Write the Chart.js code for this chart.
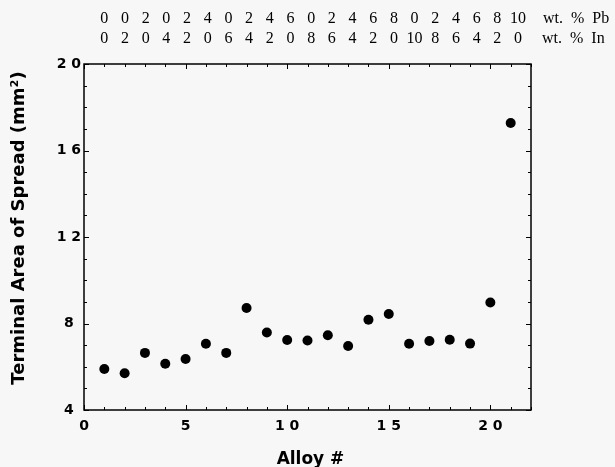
<!DOCTYPE html>
<html>
<head>
<meta charset="utf-8">
<script src="https://cdn.jsdelivr.net/npm/chart.js@4/dist/chart.umd.min.js"></script>
<style>
  html, body { margin: 0; padding: 0; background: #f7f7f7; }
  #wrap { width: 615px; height: 467px; }
</style>
</head>
<body>
<div id="wrap"><canvas id="c" width="615" height="467"></canvas></div>
<script>
// ---- data ----
const alloyNumbers = [1,2,3,4,5,6,7,8,9,10,11,12,13,14,15,16,17,18,19,20,21];
const terminalSpread = [5.90,5.70,6.64,6.14,6.36,7.06,6.64,8.72,7.58,7.24,7.21,7.46,6.96,8.17,8.44,7.06,7.19,7.25,7.07,8.97,17.27];
const pbWeightPct = ['0','0','2','0','2','4','0','2','4','6','0','2','4','6','8','0','2','4','6','8','10'];
const inWeightPct = ['0','2','0','4','2','0','6','4','2','0','8','6','4','2','0','10','8','6','4','2','0'];
const xTickLabels = [0,5,10,15,20];
const yTickLabels = [4,8,12,16,20];
const xTitle = 'Alloy #';
const yTitle = 'Terminal Area of Spread (mm²)';

const spaced = v => String(v).split('').join(' ');

const bgPlugin = {
  id: 'bg',
  beforeDraw(chart) {
    const ctx = chart.ctx;
    ctx.save();
    ctx.fillStyle = '#f7f7f7';
    ctx.fillRect(0, 0, chart.width, chart.height);
    ctx.restore();
  }
};

const framePlugin = {
  id: 'frame',
  afterDraw(chart) {
    const ctx = chart.ctx;
    const a = chart.chartArea;
    const x = chart.scales.x, y = chart.scales.y;
    ctx.save();
    ctx.strokeStyle = '#000';
    ctx.lineWidth = 1.5;
    ctx.strokeRect(a.left, a.top, a.right - a.left, a.bottom - a.top);
    ctx.lineWidth = 1;
    ctx.beginPath();
    for (let v = x.min; v <= x.max; v++) {
      const px = Math.round(x.getPixelForValue(v)) + 0.5;
      const len = (v % 5 === 0) ? 5 : 3;
      ctx.moveTo(px, a.bottom); ctx.lineTo(px, a.bottom - len);
      ctx.moveTo(px, a.top); ctx.lineTo(px, a.top + len);
    }
    for (let v = y.min; v <= y.max; v++) {
      const py = Math.round(y.getPixelForValue(v)) + 0.5;
      const len = (v % 4 === 0) ? 5 : 3;
      ctx.moveTo(a.left, py); ctx.lineTo(a.left + len, py);
      ctx.moveTo(a.right, py); ctx.lineTo(a.right - len, py);
    }
    ctx.stroke();

    // axis titles
    ctx.fillStyle = '#000';
    ctx.font = 'bold 17px "DejaVu Sans"';
    ctx.textAlign = 'center';
    ctx.textBaseline = 'alphabetic';
    ctx.fillText(xTitle, (a.left + a.right) / 2 + 3, 464);
    ctx.save();
    ctx.translate(24, (a.top + a.bottom) / 2 - 9);
    ctx.rotate(-Math.PI / 2);
    ctx.font = 'bold 18px "DejaVu Sans"';
    ctx.fillText(yTitle, 0, 0);
    ctx.restore();

    // composition annotations (column spacing in the original is slightly wider than the axis unit)
    ctx.font = '16px "Liberation Serif", "Times New Roman", serif';
    ctx.textAlign = 'center';
    alloyNumbers.forEach((n, i) => {
      const px = x.getPixelForValue(1 + (n - 1) * 1.018);
      ctx.fillText(pbWeightPct[i], px, 23);
      ctx.fillText(inWeightPct[i], px, 42.5);
    });
    ctx.textAlign = 'left';
    ctx.fillText('wt.  %  Pb', a.right + 12, 23);
    ctx.fillText('wt.  %  In', a.right + 11, 42.5);
    ctx.restore();
  }
};

new Chart(document.getElementById('c'), {
  type: 'scatter',
  data: {
    datasets: [{
      data: alloyNumbers.map((n, i) => ({x: n, y: terminalSpread[i]})),
      backgroundColor: '#000',
      borderColor: '#000',
      borderWidth: 0,
      pointRadius: 5,
      pointHoverRadius: 5
    }]
  },
  plugins: [bgPlugin, framePlugin],
  options: {
    responsive: false,
    animation: false,
    devicePixelRatio: 1,
    layout: { padding: { left: 0, right: 84, top: 64, bottom: 0 } },
    plugins: { legend: { display: false }, tooltip: { enabled: false } },
    scales: {
      x: {
        type: 'linear', min: 0, max: 22,
        grid: { display: false, drawTicks: false },
        border: { display: false },
        ticks: {
          stepSize: 1, autoSkip: false, maxRotation: 0, padding: 8,
          color: '#000',
          font: { family: '"DejaVu Sans"', weight: 'bold', size: 14 },
          callback: v => xTickLabels.includes(v) ? spaced(v) : ''
        },
        title: { display: false },
        afterFit(s) { s.height = 57; }
      },
      y: {
        type: 'linear', min: 4, max: 20,
        grid: { display: false, drawTicks: false },
        border: { display: false },
        ticks: {
          stepSize: 1, autoSkip: false, padding: 3, crossAlign: 'center',
          color: '#000',
          font: { family: '"DejaVu Sans"', weight: 'bold', size: 14 },
          callback: v => yTickLabels.includes(v) ? spaced(v) : ''
        },
        title: { display: false },
        afterFit(s) { s.width = 84; }
      }
    }
  }
});
</script>
</body>
</html>
